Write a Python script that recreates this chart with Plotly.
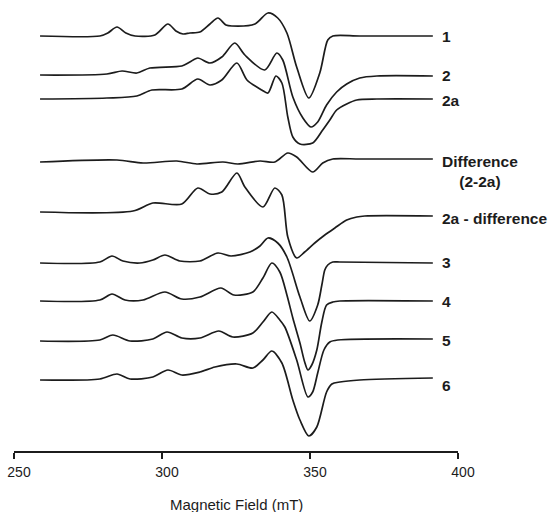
import plotly.graph_objects as go

# Magnetic field (mT) and relative signal (arb. units)
field_1 = [258.8, 279.0, 281.7, 284.8, 287.8, 290.9, 297.6, 302.0, 304.7, 307.1, 309.4, 312.8, 316.2, 318.9, 321.6, 323.6, 331.4, 335.8, 339.1, 342.2, 345.5, 349.6, 353.3, 356.0, 357.7, 366.8, 391.5]
int_1 = [0, 0, 3, 9, 3, 0, 1, 12, 5, 2, 3, 4, 12, 18, 11, 10, 12, 23, 18, 3, -31, -62, -37, -4, 0, 0, 0]

field_2 = [258.8, 281.4, 286.5, 291.5, 295.9, 306.7, 309.4, 312.1, 316.2, 320.2, 324.6, 328.0, 334.7, 338.8, 340.8, 344.2, 347.6, 350.3, 352.6, 355.6, 359.0, 362.4, 366.8, 372.6, 391.5]
int_2 = [0, 1, 4, 2, 7, 9, 13, 17, 12, 18, 32, 20, 5, 22, 15, -22, -43, -52, -47, -30, -17, -9, -3, -1, -1]

field_2a = [258.8, 281.4, 291.5, 296.6, 306.7, 312.1, 316.2, 320.2, 325.3, 328.7, 333.7, 335.8, 338.5, 340.5, 342.5, 344.2, 346.6, 350.9, 354.3, 356.7, 359.0, 362.4, 365.8, 372.6, 391.5]
int_2a = [0, 1, 3, 9, 10, 20, 14, 19, 36, 19, 9, 6, 23, 16, -18, -38, -45, -44, -31, -21, -11, -5, -1, 0, 0]

field_diff = [258.8, 284.8, 293.6, 305.0, 311.8, 320.6, 325.6, 333.1, 338.1, 342.5, 345.5, 350.9, 354.3, 357.7, 366.8, 391.5]
int_diff = [0, 2, -1, 1, -2, 0, -2, 1, 0, 9, 5, -10, -1, 3, 3, 3]

field_2amd = [258.8, 290.2, 296.9, 306.7, 312.1, 316.2, 320.2, 325.3, 328.0, 334.1, 338.1, 340.5, 342.5, 345.5, 348.2, 351.6, 355.0, 358.4, 362.4, 365.8, 368.5, 391.5]
int_2amd = [0, 1, 9, 8, 24, 18, 20, 39, 25, 5, 24, 17, -25, -46, -40, -31, -23, -16, -8, -5, -4, -4]

field_3 = [258.8, 279.0, 283.1, 286.8, 292.5, 296.9, 301.0, 306.0, 312.8, 318.9, 323.3, 329.7, 333.1, 335.8, 339.1, 342.2, 346.6, 349.9, 352.6, 354.0, 355.0, 356.0, 357.7, 360.1, 391.5]
int_3 = [0, 1, 7, 2, 0, 3, 8, 2, 2, 10, 7, 11, 17, 25, 20, 6, -34, -58, -42, -22, -7, -2, 1, 1, 0]

field_4 = [258.8, 279.0, 283.1, 287.5, 293.6, 301.0, 306.7, 312.8, 319.9, 324.3, 330.7, 334.1, 337.1, 339.8, 342.2, 344.2, 346.6, 348.2, 349.3, 350.6, 352.3, 354.0, 355.6, 357.7, 360.1, 391.5]
int_4 = [0, 1, 7, 1, 1, 9, 2, 4, 13, 6, 9, 23, 38, 29, 6, -17, -42, -61, -69, -64, -49, -21, -4, -1, 0, 0]

field_5 = [258.8, 279.0, 283.4, 289.2, 296.9, 301.7, 306.7, 312.8, 319.2, 323.9, 330.7, 334.1, 337.1, 339.8, 341.5, 345.5, 349.3, 350.9, 352.6, 354.7, 356.7, 359.4, 391.5]
int_5 = [0, 1, 6, 0, 2, 9, 3, 3, 10, 4, 8, 19, 29, 21, 14, -19, -56, -51, -32, -9, -1, 1, 2]

field_6 = [258.8, 279.0, 284.8, 289.2, 296.9, 302.0, 306.7, 312.8, 317.9, 325.3, 330.7, 334.1, 337.1, 340.5, 344.2, 346.6, 349.6, 352.3, 355.6, 357.4, 360.1, 366.8, 391.5]
int_6 = [0, 1, 6, 1, 3, 10, 5, 8, 13, 16, 12, 20, 29, 17, -20, -40, -56, -47, -12, -4, -2, 0, 2]

names = ["1", "2", "2a", "Difference<br>(2-2a)", "2a - difference", "3", "4", "5", "6"]
offsets = [415, 376, 352, 289, 239, 188, 150, 110, 71]
label_y = [415, 376, 351, 279.5, 233, 189, 150, 111, 66]

fields = [field_1, field_2, field_2a, field_diff, field_2amd, field_3, field_4, field_5, field_6]
ints = [int_1, int_2, int_2a, int_diff, int_2amd, int_3, int_4, int_5, int_6]

fig = go.Figure()
for f, v, off, nm in zip(fields, ints, offsets, names):
    fig.add_trace(go.Scatter(
        x=f, y=[off + s for s in v], mode="lines", name=nm,
        line=dict(color="#1c1c1c", width=1.7, shape="spline", smoothing=0.8),
        showlegend=False, hoverinfo="skip"))

for nm, ly in zip(names, label_y):
    fig.add_annotation(x=393.8, y=ly, xref="x", yref="y", text="<b>" + nm + "</b>",
                       showarrow=False, xanchor="left", yanchor="middle", align="center",
                       font=dict(family="Liberation Sans, Arial, sans-serif", size=15.5, color="#1c1c1c"))

fig.add_annotation(x=325, y=-0.119, xref="x", yref="paper", text="Magnetic Field (mT)",
                   showarrow=False, xanchor="center", yanchor="middle",
                   font=dict(family="Liberation Sans, Arial, sans-serif", size=15, color="#1c1c1c"))

fig.update_xaxes(range=[250, 400], tickvals=[250, 300, 350, 400], ticktext=["250", "300", "350", "400"],
                 showline=True, linecolor="#1c1c1c", linewidth=1.5, ticks="outside", ticklen=6,
                 tickcolor="#1c1c1c", tickwidth=1.5, showgrid=False, zeroline=False,
                 ticklabelstandoff=1, ticklabelshift=5,
                 tickfont=dict(family="Liberation Sans, Arial, sans-serif", size=14, color="#1c1c1c"))
fig.update_yaxes(range=[0, 446], visible=False, showgrid=False, zeroline=False)

fig.update_layout(width=558, height=512, margin=dict(l=14, r=100, t=5, b=61),
                  plot_bgcolor="white", paper_bgcolor="white")

fig.write_html("out.html", config={"displayModeBar": False},
               post_script="document.body.style.margin='0';document.body.style.overflow='hidden';")
